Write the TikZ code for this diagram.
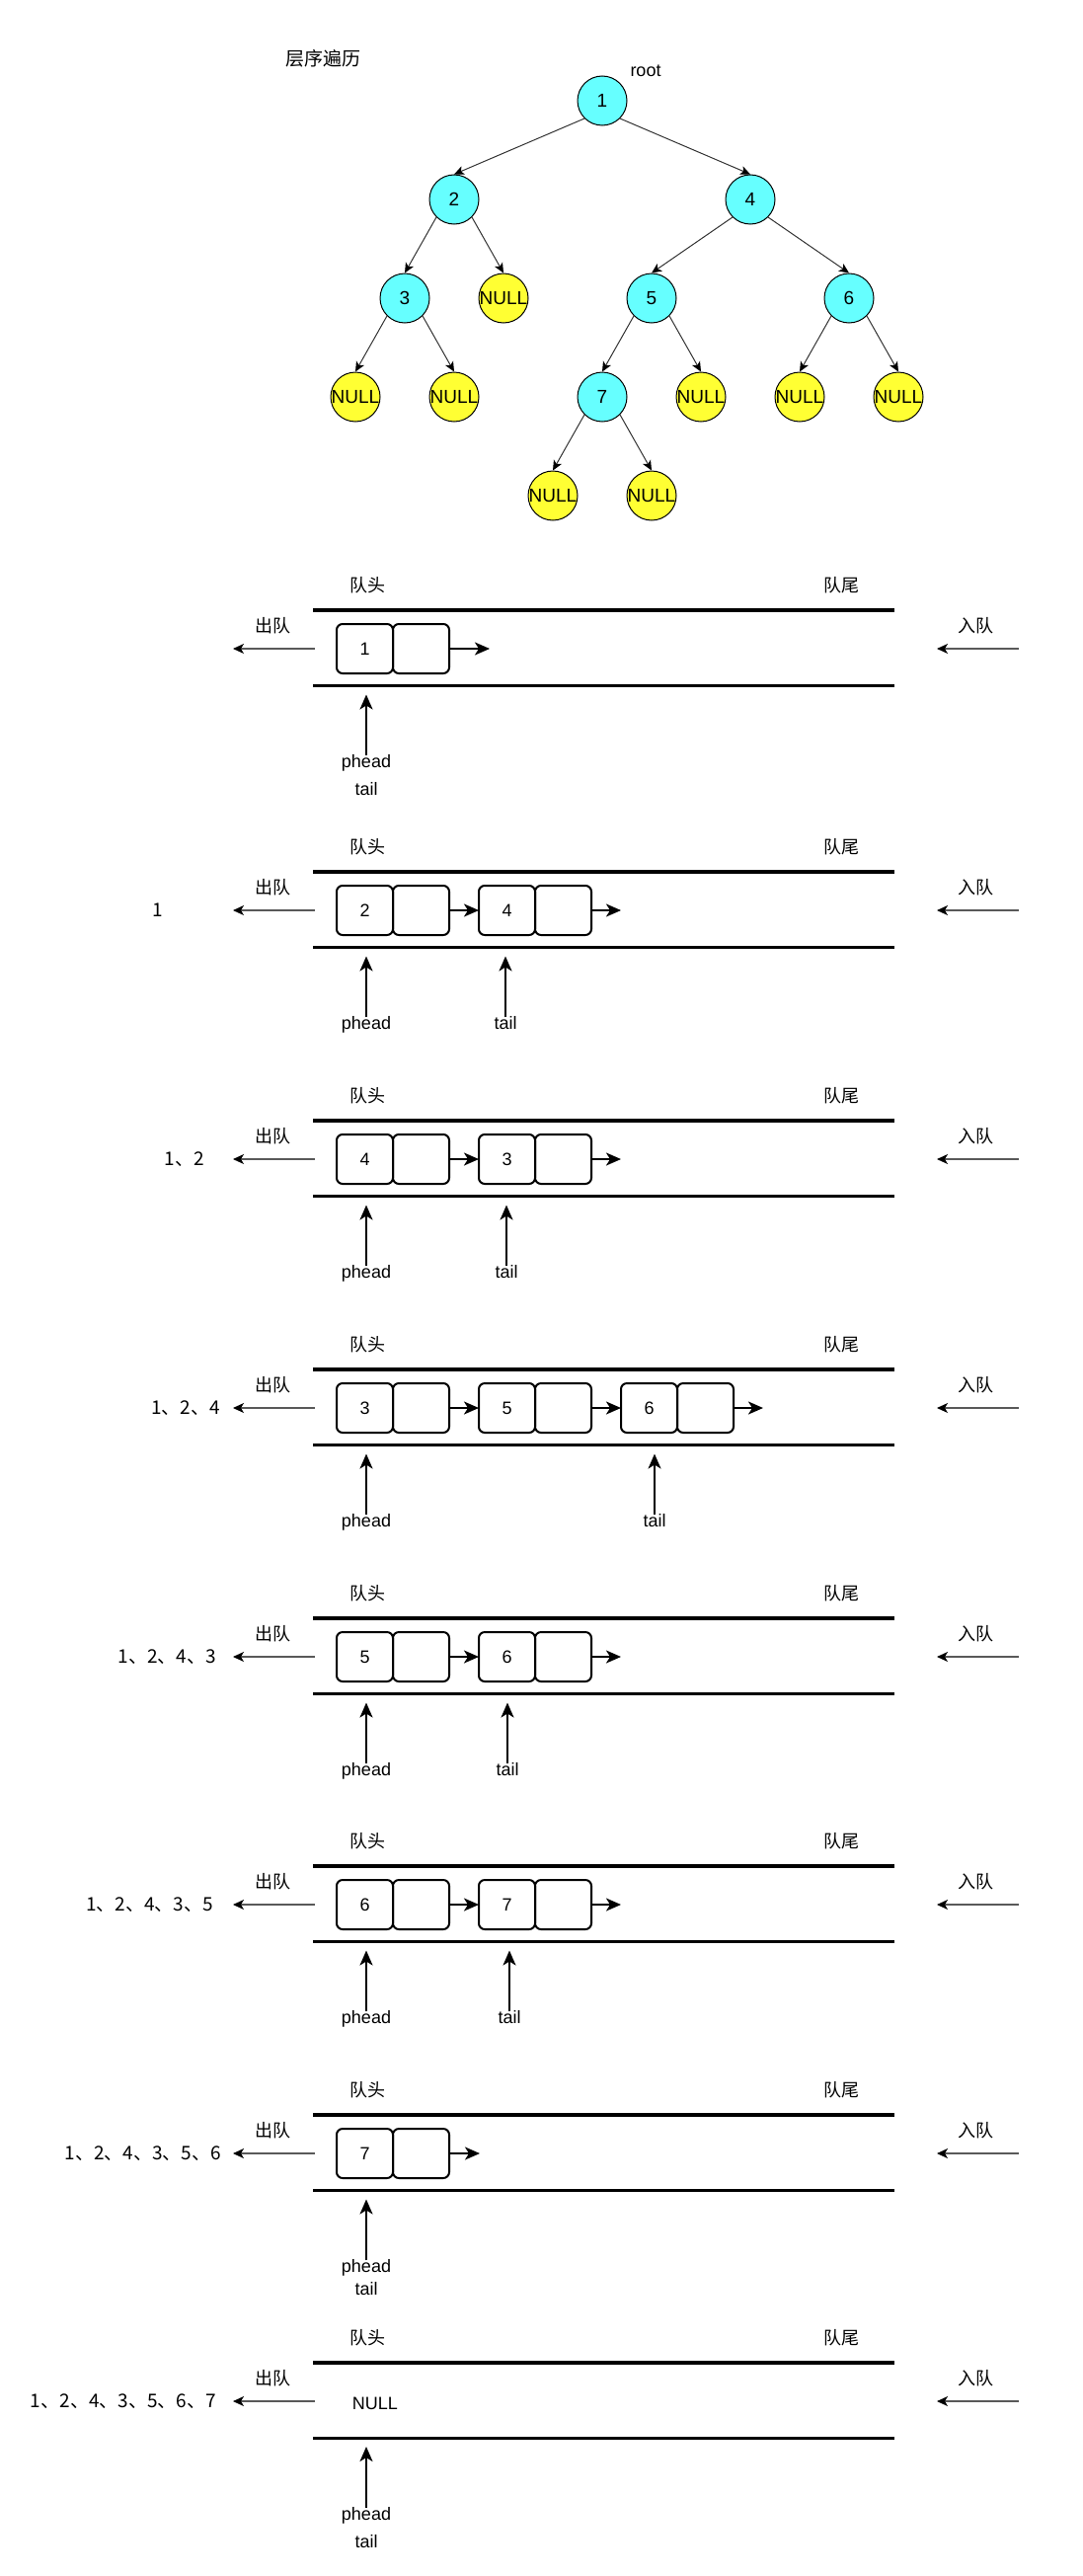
\documentclass[tikz,border=0pt]{standalone}
\usepackage{fontspec}
\setmainfont{Liberation Sans}
\newfontfamily\cjk{Noto Sans CJK SC}
\usetikzlibrary{positioning,arrows.meta}
\definecolor{treecyan}{HTML}{66FFFF}
\definecolor{nullyellow}{HTML}{FFFF33}
\definecolor{edgegray}{HTML}{333333}
\tikzset{
  tnode/.style={circle,draw,line width=1pt,fill=treecyan,minimum size=50pt,inner sep=0pt,font=\fontsize{19}{20}\selectfont},
  tnull/.style={tnode,fill=nullyellow},
  tedge/.style={draw=edgegray,line width=1pt,-{Stealth[length=10pt,width=9pt,inset=2.5pt,color=black]}},
  cell/.style={draw,line width=2pt,rounded corners=6pt,minimum width=57pt,minimum height=50pt,inner sep=0pt,outer sep=0pt,font=\fontsize{18}{20}\selectfont},
  link/.style={line width=2pt,-{Stealth[length=15pt,width=13pt,inset=4pt]}},
  side/.style={draw=black!65,line width=1.3pt,-{Stealth[length=11pt,width=10pt,inset=3pt,color=black]}},
  wall/.style={line width=3.2pt},
  zh/.style={font=\cjk\fontsize{18}{20}\selectfont},
  done/.style={font=\cjk\fontsize{19}{20}\selectfont,anchor=east,inner sep=0pt},
  word/.style={font=\fontsize{18}{20}\selectfont},
  ptr/.style={word,anchor=base}
}
\begin{document}
\begin{tikzpicture}[x=1pt,y=-1pt]
  \useasboundingbox (0,0) rectangle (1097,2609);
  % tree
  \node[zh,font=\cjk\fontsize{19}{20}\selectfont] (ttl) at (327,59) {层序遍历};
  \node[word] (rootlbl) at (654,72) {root};
  \node[tnode] (t1) at (610,102) {1};
  \node[tnode] (t2) at (460,202) {2};
  \node[tnode] (t4) at (760,202) {4};
  \node[tnode] (t3) at (410,302) {3};
  \node[tnull] (t2r) at (510,302) {\makebox[0pt]{NULL}};
  \node[tnode] (t5) at (660,302) {5};
  \node[tnode] (t6) at (860,302) {6};
  \node[tnull] (t3l) at (360,402) {\makebox[0pt]{NULL}};
  \node[tnull] (t3r) at (460,402) {\makebox[0pt]{NULL}};
  \node[tnode] (t7) at (610,402) {7};
  \node[tnull] (t5r) at (710,402) {\makebox[0pt]{NULL}};
  \node[tnull] (t6l) at (810,402) {\makebox[0pt]{NULL}};
  \node[tnull] (t6r) at (910,402) {\makebox[0pt]{NULL}};
  \node[tnull] (t7l) at (560,502) {\makebox[0pt]{NULL}};
  \node[tnull] (t7r) at (660,502) {\makebox[0pt]{NULL}};
  \draw[tedge] (t1.south west) -- (t2.north);
  \draw[tedge] (t1.south east) -- (t4.north);
  \draw[tedge] (t2.south west) -- (t3.north);
  \draw[tedge] (t2.south east) -- (t2r.north);
  \draw[tedge] (t4.south west) -- (t5.north);
  \draw[tedge] (t4.south east) -- (t6.north);
  \draw[tedge] (t3.south west) -- (t3l.north);
  \draw[tedge] (t3.south east) -- (t3r.north);
  \draw[tedge] (t5.south west) -- (t7.north);
  \draw[tedge] (t5.south east) -- (t5r.north);
  \draw[tedge] (t6.south west) -- (t6l.north);
  \draw[tedge] (t6.south east) -- (t6r.north);
  \draw[tedge] (t7.south west) -- (t7l.north);
  \draw[tedge] (t7.south east) -- (t7r.north);

  % queue frames
  \foreach \t [count=\i] in {618,883,1135,1387,1639,1890,2142,2393} {
    \draw[wall] (317,\t) -- (906,\t);
    \draw[wall] (317,\t+76.5) -- (906,\t+76.5);
    \node[zh] (head\i) at (372,\t-25) {队头};
    \node[zh] (rear\i) at (852,\t-25) {队尾};
    \node[zh] (out\i) at (276,\t+16) {出队};
    \node[zh] (in\i) at (988,\t+16) {入队};
    \coordinate (ol\i) at (319,\t+39);
    \coordinate (or\i) at (236,\t+39);
    \coordinate (il\i) at (1032,\t+39);
    \coordinate (ir\i) at (949,\t+39);
    \draw[side] (ol\i) -- (or\i);
    \draw[side] (il\i) -- (ir\i);
  }

  % 1
  \node[cell] (q1a) at (369.5,657) {1};
  \node[cell,right=0pt of q1a] (q1b) {};
  \coordinate[right=41pt of q1b] (e1);
  \draw[link] (q1b) -- (e1);
  \node[ptr] (ph1) at (371,777) {phead};
  \node[ptr] (tl1) at (371,805) {tail};
  \draw[link,shorten <=-5pt,shorten >=21.5pt] (ph1) -- (ph1 |- q1a.south);

  % 2
  \node[cell] (q2a) at (369.5,922) {2};
  \node[cell,right=0pt of q2a] (q2b) {};
  \node[cell,right=30pt of q2b] (q2c) {4};
  \node[cell,right=0pt of q2c] (q2d) {};
  \coordinate[right=30pt of q2d] (e2);
  \draw[link] (q2b) -- (q2c);
  \draw[link] (q2d) -- (e2);
  \node[ptr] (ph2) at (371,1042) {phead};
  \node[ptr] (tl2) at (512,1042) {tail};
  \draw[link,shorten <=-5pt,shorten >=21.5pt] (ph2) -- (ph2 |- q2a.south);
  \draw[link,shorten <=-5pt,shorten >=21.5pt] (tl2) -- (tl2 |- q2c.south);
  \node[done] (done2) at (165,922) {1};

  % 3
  \node[cell] (q3a) at (369.5,1174) {4};
  \node[cell,right=0pt of q3a] (q3b) {};
  \node[cell,right=30pt of q3b] (q3c) {3};
  \node[cell,right=0pt of q3c] (q3d) {};
  \coordinate[right=30pt of q3d] (e3);
  \draw[link] (q3b) -- (q3c);
  \draw[link] (q3d) -- (e3);
  \node[ptr] (ph3) at (371,1294) {phead};
  \node[ptr] (tl3) at (513,1294) {tail};
  \draw[link,shorten <=-5pt,shorten >=21.5pt] (ph3) -- (ph3 |- q3a.south);
  \draw[link,shorten <=-5pt,shorten >=21.5pt] (tl3) -- (tl3 |- q3c.south);
  \node[done] (done3) at (207,1174) {1、2};

  % 4
  \node[cell] (q4a) at (369.5,1426) {3};
  \node[cell,right=0pt of q4a] (q4b) {};
  \node[cell,right=30pt of q4b] (q4c) {5};
  \node[cell,right=0pt of q4c] (q4d) {};
  \node[cell,right=30pt of q4d] (q4e) {6};
  \node[cell,right=0pt of q4e] (q4f) {};
  \coordinate[right=30pt of q4f] (e4);
  \draw[link] (q4b) -- (q4c);
  \draw[link] (q4d) -- (q4e);
  \draw[link] (q4f) -- (e4);
  \node[ptr] (ph4) at (371,1546) {phead};
  \node[ptr] (tl4) at (663,1546) {tail};
  \draw[link,shorten <=-5pt,shorten >=21.5pt] (ph4) -- (ph4 |- q4a.south);
  \draw[link,shorten <=-5pt,shorten >=21.5pt] (tl4) -- (tl4 |- q4e.south);
  \node[done] (done4) at (223,1426) {1、2、4};

  % 5
  \node[cell] (q5a) at (369.5,1678) {5};
  \node[cell,right=0pt of q5a] (q5b) {};
  \node[cell,right=30pt of q5b] (q5c) {6};
  \node[cell,right=0pt of q5c] (q5d) {};
  \coordinate[right=30pt of q5d] (e5);
  \draw[link] (q5b) -- (q5c);
  \draw[link] (q5d) -- (e5);
  \node[ptr] (ph5) at (371,1798) {phead};
  \node[ptr] (tl5) at (514,1798) {tail};
  \draw[link,shorten <=-5pt,shorten >=21.5pt] (ph5) -- (ph5 |- q5a.south);
  \draw[link,shorten <=-5pt,shorten >=21.5pt] (tl5) -- (tl5 |- q5c.south);
  \node[done] (done5) at (219,1678) {1、2、4、3};

  % 6
  \node[cell] (q6a) at (369.5,1929) {6};
  \node[cell,right=0pt of q6a] (q6b) {};
  \node[cell,right=30pt of q6b] (q6c) {7};
  \node[cell,right=0pt of q6c] (q6d) {};
  \coordinate[right=30pt of q6d] (e6);
  \draw[link] (q6b) -- (q6c);
  \draw[link] (q6d) -- (e6);
  \node[ptr] (ph6) at (371,2049) {phead};
  \node[ptr] (tl6) at (516,2049) {tail};
  \draw[link,shorten <=-5pt,shorten >=21.5pt] (ph6) -- (ph6 |- q6a.south);
  \draw[link,shorten <=-5pt,shorten >=21.5pt] (tl6) -- (tl6 |- q6c.south);
  \node[done] (done6) at (216,1929) {1、2、4、3、5};

  % 7
  \node[cell] (q7a) at (369.5,2181) {7};
  \node[cell,right=0pt of q7a] (q7b) {};
  \coordinate[right=31pt of q7b] (e7);
  \draw[link] (q7b) -- (e7);
  \node[ptr] (ph7) at (371,2301) {phead};
  \node[ptr] (tl7) at (371,2324) {tail};
  \draw[link,shorten <=-5pt,shorten >=21.5pt] (ph7) -- (ph7 |- q7a.south);
  \node[done] (done7) at (224,2181) {1、2、4、3、5、6};

  % 8
  \node[word] (nul8) at (380,2434) {NULL};
  \node[ptr] (ph8) at (371,2552) {phead};
  \node[ptr] (tl8) at (371,2580) {tail};
  \draw[link,shorten <=-5pt,shorten >=44pt] (ph8) -- (ph8 |- nul8);
  \node[done] (done8) at (219,2432) {1、2、4、3、5、6、7};
\end{tikzpicture}
\end{document}
